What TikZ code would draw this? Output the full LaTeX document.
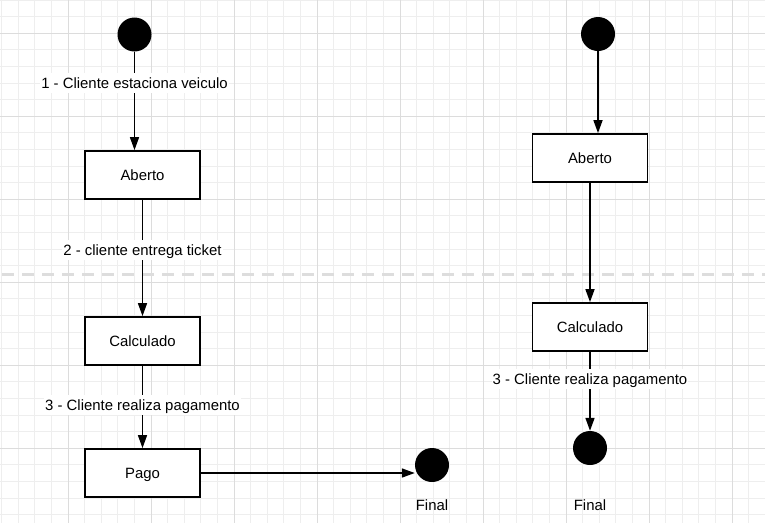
\documentclass[tikz,border=0pt]{standalone}
\usepackage{fontspec}
\setmainfont{Liberation Sans}
\usetikzlibrary{arrows.meta}
\definecolor{gridminor}{HTML}{EEEEEE}
\definecolor{gridmajor}{HTML}{DCDCDC}
\definecolor{dashcol}{HTML}{DDDDDD}
\begin{document}
\begin{tikzpicture}[x=1pt,y=-1pt,
  font=\fontsize{14.9}{17}\selectfont,
  txt/.style={text height=13pt,text depth=2.4pt},
  statebox/.style={txt,draw=black,line width=1.8pt,fill=white,minimum width=115pt,minimum height=48pt,inner sep=0pt},
  dot/.style={circle,fill=black,draw=none,minimum size=34pt,inner sep=0pt},
  lbl/.style={txt,fill=white,inner xsep=1pt,inner ysep=2pt},
  plain/.style={txt,inner sep=1pt},
  conn/.style={line width=1.6pt,-{Triangle[length=13pt,width=9pt]}},
  minorline/.style={gridminor,line width=0.9pt},
  majorline/.style={gridmajor,line width=1pt}]
\useasboundingbox (0,0) rectangle (765,523);
\fill[white] (0,0) rectangle (765,523);
\begin{scope}
\clip (0,0) rectangle (765,523);
\foreach \i in {0,...,46} {\draw[minorline] ({1.6+16.6*\i},0) -- ({1.6+16.6*\i},523);}
\foreach \j in {0,...,31} {\draw[minorline] (0,{0.1+16.6*\j}) -- (765,{0.1+16.6*\j});}
\foreach \i in {0,...,9} {\draw[majorline] ({68-83+83*\i},0) -- ({68-83+83*\i},523);}
\foreach \j in {0,...,6} {\draw[majorline] (0,{33.3+83*\j}) -- (765,{33.3+83*\j});}
\draw[dashcol,line width=3pt,dash pattern=on 12pt off 8pt] (2,274) -- (765,274);
\end{scope}

% left diagram
\node[dot] (s1) at (134.5,34.5) {};
\node[statebox] (a1) at (142.5,175) {Aberto};
\node[statebox] (c1) at (142.5,341) {Calculado};
\node[statebox] (p1) at (142.5,473) {Pago};
\node[dot] (f1) at (432,465) {};
\node[plain] (t1) at (432,505) {Final};

\draw[conn] (s1) -- (s1 |- a1.north);
\draw[conn] (a1) -- (c1);
\draw[conn] (c1) -- (p1);
\draw[conn] (p1.east) -- (p1.east -| f1.west);

\node[lbl] (l1) at (134.5,83) {1 - Cliente estaciona veiculo};
\node[lbl] (l2) at (142.5,250) {2 - cliente entrega ticket};
\node[lbl] (l3) at (142.5,405) {3 - Cliente realiza pagamento};

% right diagram
\node[dot] (s2) at (598,34) {};
\node[statebox] (a2) at (590,158) {Aberto};
\node[statebox] (c2) at (590,327) {Calculado};
\node[dot] (f2) at (590,448) {};
\node[plain] (t2) at (590,505) {Final};

\draw[conn] (s2) -- (s2 |- a2.north);
\draw[conn] (a2) -- (c2);
\draw[conn] (c2) -- (f2);

\node[lbl] (l4) at (590,379) {3 - Cliente realiza pagamento};
\end{tikzpicture}
\end{document}
